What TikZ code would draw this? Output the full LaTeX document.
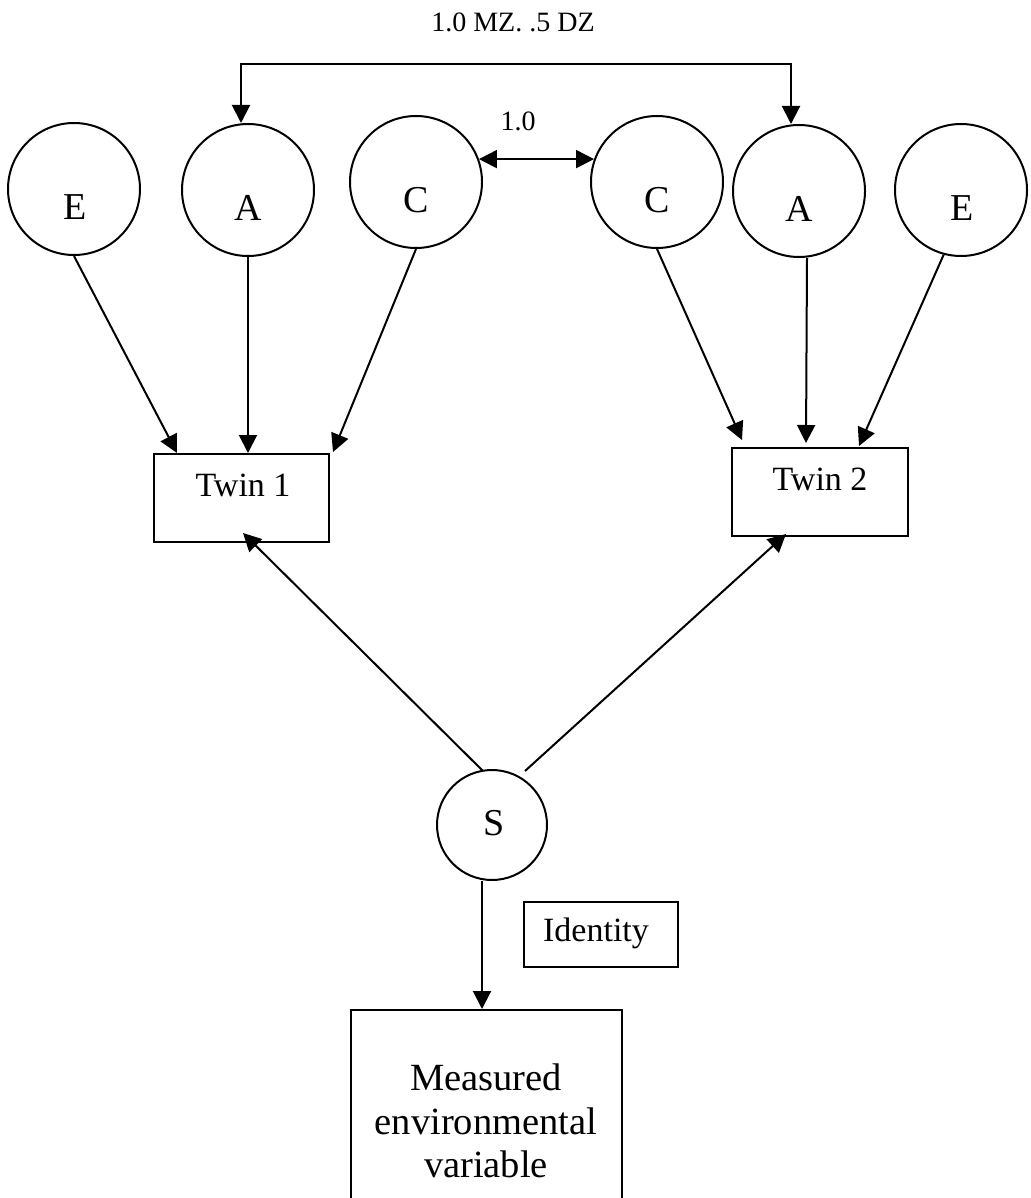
\documentclass[tikz,border=0pt]{standalone}
\usepackage{fontspec}
\setmainfont{Liberation Serif}
\usetikzlibrary{arrows.meta,calc}
\begin{document}
\begin{tikzpicture}[x=1pt,y=-1pt,line width=2pt,
  circ/.style={draw,circle,minimum size=132pt,inner sep=0pt},
  smallcirc/.style={draw,circle,minimum size=110pt,inner sep=0pt},
  boxnode/.style={draw,rectangle,inner sep=0pt},
  tip/.tip={Triangle[length=18pt,width=18pt]},
  arr/.style={-tip},
  darr/.style={tip-tip},
  circtext/.style={inner sep=0pt,font=\fontsize{38}{44}\selectfont},
  boxtext/.style={inner sep=0pt,font=\fontsize{34}{40}\selectfont},
  smalltext/.style={inner sep=0pt,font=\fontsize{28}{34}\selectfont}]
\useasboundingbox (0,0) rectangle (1030,1198);

% latent circles
\node[circ] (E1) at (74,189) {};
\node[circ] (A1) at (248,190) {};
\node[circ] (C1) at (416,182) {};
\node[circ] (C2) at (657,182) {};
\node[circ] (A2) at (799,191) {};
\node[circ] (E2) at (961,190) {};
\node[circtext] (E1t) at ($(E1.center)+(1,18)$) {E};
\node[circtext] (A1t) at ($(A1.center)+(0,18)$) {A};
\node[circtext] (C1t) at ($(C1.center)+(0,18)$) {C};
\node[circtext] (C2t) at ($(C2.center)+(0,18)$) {C};
\node[circtext] (A2t) at ($(A2.center)+(0,18)$) {A};
\node[circtext] (E2t) at ($(E2.center)+(1,18)$) {E};

% twins
\node[boxnode,minimum width=175pt,minimum height=88pt] (T1) at (241.5,498) {};
\node[boxnode,minimum width=176pt,minimum height=88pt] (T2) at (820,492) {};
\node[boxtext] (T1t) at (243,485) {Twin 1};
\node[boxtext] (T2t) at (820,479) {Twin 2};

% S and measured
\node[smallcirc] (S) at (492,825) {};
\node[circtext] (St) at (494,823) {S};
\node[boxnode,minimum width=154pt,minimum height=65pt] (Id) at (601,934.5) {};
\node[inner sep=0pt,font=\fontsize{34}{40}\selectfont] (Idt) at (596,933) {Identity};
\node[boxnode,minimum width=271pt,minimum height=220pt] (M) at (486.5,1120) {};
\node[inner sep=0pt,align=center,font=\fontsize{38.5}{43.5}\selectfont] (Mt) at (486,1121) {Measured\\environmental\\variable};

% labels
\node[smalltext] (mzdz) at (513,22) {1.0 MZ. .5 DZ};
\node[smalltext] (one) at (518,121) {1.0};

% correlations
\draw[darr] ($(A1.north)+(-7,0)$) -- ++(0,-59) -| ($(A2.north)+(-8,0)$);
\draw[darr] (C1.20) -- (C2.160);

% paths to twin 1
\draw[arr] (E1.south) -- ($(T1.north west)+(24,0)$);
\draw[arr] (A1.south) -- (A1.south |- T1.north);
\draw[arr] (C1.south) -- ($(T1.north east)+(3,-1)$);

% paths to twin 2
\draw[arr] (C2.south) -- ($(T2.north west)+(11,-7)$);
\draw[arr] ($(A2.south)+(8,0)$) -- ($(T2.north)+(-14,-4)$);
\draw[arr] (E2.-105) -- ($(T2.north east)+(-50,-1)$);

% S paths
\draw[arr] ($(S.center)+(-9,-54)$) -- ($(T1.south)+(1.5,-10)$);
\draw[arr] ($(S.center)+(33,-54)$) -- ($(T2.south)+(-34,-3)$);
\draw[arr] ($(S.south)+(-10,0)$) -- ($(M.north)+(-4.5,0)$);
\end{tikzpicture}
\end{document}
